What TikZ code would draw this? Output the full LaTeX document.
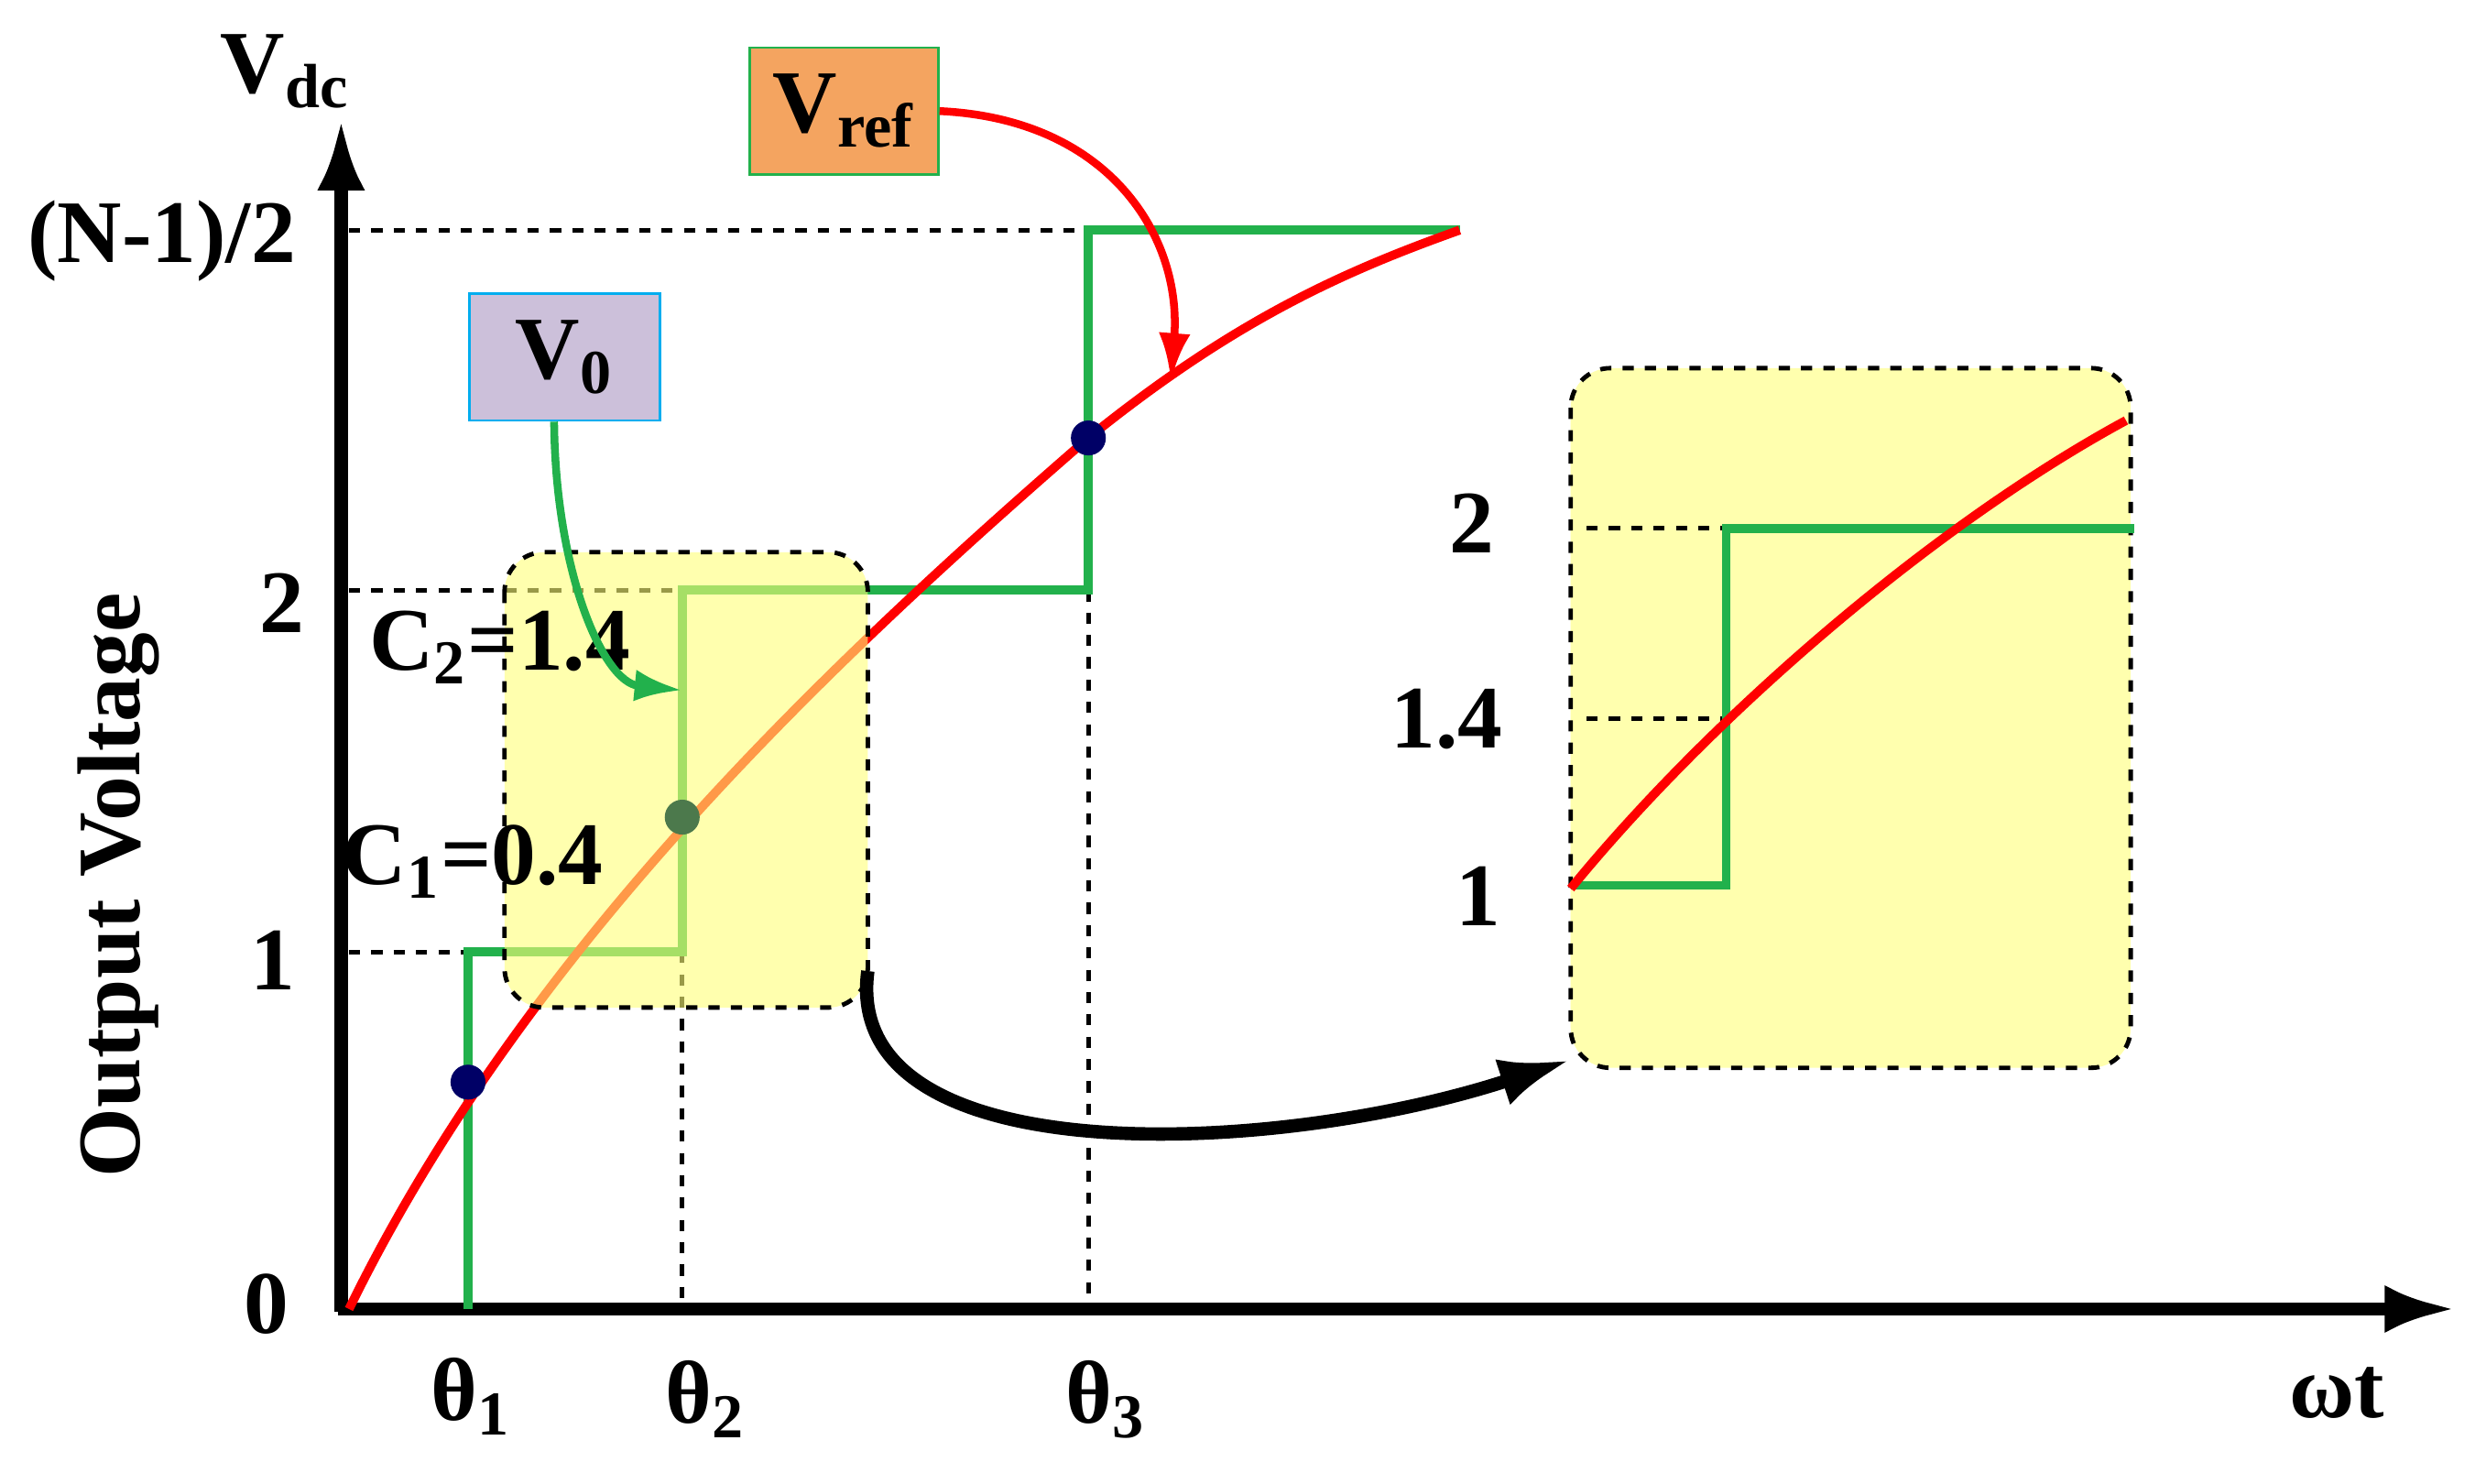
\documentclass[tikz,border=0pt]{standalone}
\usepackage{fontspec}
\setmainfont{Liberation Serif}
\usetikzlibrary{arrows.meta}
\definecolor{stepgreen}{RGB}{34,177,76}
\definecolor{boxyellow}{RGB}{255,255,120}
\definecolor{vrefcol}{RGB}{244,164,96}
\definecolor{vzcol}{RGB}{204,192,218}
\tikzset{
  lbl/.style={font=\fontsize{13}{16}\selectfont\bfseries, inner sep=1pt},
  big/.style={lbl, font=\fontsize{16}{19}\selectfont\bfseries},
  dot/.style={circle, inner sep=0pt, minimum size=0.22cm, fill=#1},
  hint/.style={dash pattern=on 2pt off 2pt, thick},
  zoombox/.style={draw, hint, rounded corners=0.25cm, fill=boxyellow, fill opacity=0.6},
}
\begin{document}
\begin{tikzpicture}[x=0.01cm, y=-0.01cm]
    \useasboundingbox (0,0) rectangle (1560,935);
    % axes
    \draw [line width=2.4pt, -{Latex[length=0.45cm,width=0.3cm]}] (215,827) -- (215,75);
    \draw [line width=2.4pt, -{Latex[length=0.45cm,width=0.3cm]}] (213,825) -- (1548,825);

    % helper lines
    \draw [hint] (220,600) -- (295,600);
    \draw [hint] (220,372) -- (430,372);
    \draw [hint] (220,145) -- (686,145);
    \draw [hint] (430,600) -- (430,822);
    \draw [hint] (686,372) -- (686,822);

    % staircase and reference
    \draw [stepgreen, line width=1.6pt] (295,825) -- (295,600) -- (430,600) -- (430,372) -- (686,372) -- (686,145) -- (920,145);
    \draw [red, line width=1.6pt] (220,825) .. controls (330,600) and (520,420) .. (686,276) .. controls (780,200) and (850,170) .. (920,145);

    % zoomed region
    \draw [zoombox] (318,348) rectangle (547,635);
    \node [dot={blue!40!black}] (d1) at (295,682) {};
    \node [dot={green!25!black!70}] (d2) at (430,515) {};
    \node [dot={blue!40!black}] (d3) at (686,276) {};

    \draw [zoombox] (990,232) rectangle (1343,673);
    \draw [hint] (1000,333) -- (1088,333);
    \draw [hint] (1000,453) -- (1088,453);
    \draw [stepgreen, line width=1.6pt] (990,558) -- (1088,558) -- (1088,333) -- (1345,333);
    \draw [red, line width=1.6pt] (990,560) .. controls (1080,450) and (1220,330) .. (1340,265);

    \coordinate (zs) at (547,612);
    \coordinate (ze) at (990,668);
    \draw [line width=2.4pt, -{Latex[length=0.45cm,width=0.3cm]}] (zs) .. controls (530,740) and (800,730) .. (ze);

    % labels
    \node [big] (vdc) at (180,45) {V\textsubscript{dc}};
    \node [big] (lN) at (102,152) {(N-1)/2};
    \node [big] (l2) at (178,380) {2};
    \node [big] (l1) at (172,605) {1};
    \node [big] (l0) at (168,822) {0};
    \node [big] (c2) at (315,408) {C\textsubscript{2}=1.4};
    \node [big] (c1) at (298,543) {C\textsubscript{1}=0.4};
    \node [big] (t1) at (297,880) {θ\textsubscript{1}};
    \node [big] (t2) at (445,882) {θ\textsubscript{2}};
    \node [big] (t3) at (697,882) {θ\textsubscript{3}};
    \node [big] (wt) at (1473,878) {ωt};
    \node [big, rotate=90] (ov) at (75,558) {Output Voltage};
    \node [big] (z2) at (928,330) {2};
    \node [big] (z14) at (912,453) {1.4};
    \node [big] (z1) at (932,565) {1};

    % callouts
    \node [big, draw=stepgreen, fill=vrefcol, minimum width=1.19cm, minimum height=0.8cm] (vref) at (532,70) {V\textsubscript{ref}};
    \node [big, draw=cyan, fill=vzcol, minimum width=1.2cm, minimum height=0.8cm] (v0) at (356,225) {V\textsubscript{0}};
    \coordinate (vrefe) at (738,240);
    \coordinate (v0e) at (430,435);
    \draw [red, line width=1.4pt, -{Latex[length=0.3cm,width=0.2cm]}] (vref.east) .. controls (700,75) and (745,150) .. (vrefe);
    \draw [stepgreen, line width=1.4pt, -{Latex[length=0.3cm,width=0.2cm]}] (v0.south west) ++(54,0) .. controls (350,360) and (380,430) .. (v0e);
\end{tikzpicture}
\end{document}
